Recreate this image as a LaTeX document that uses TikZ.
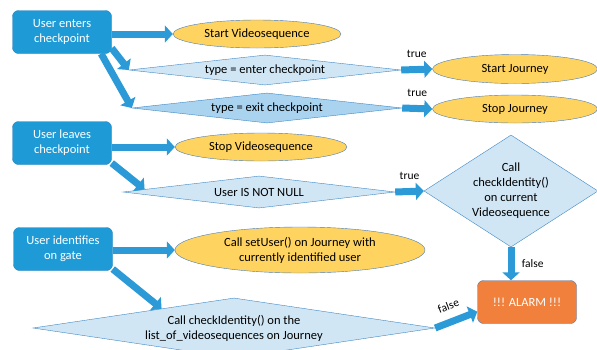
\documentclass[tikz,border=0pt]{standalone}
\usepackage{fontspec}
\setmainfont{Carlito}
\usetikzlibrary{arrows.meta,shapes.geometric,calc}
\definecolor{boxblue}{HTML}{1E9BD7}
\definecolor{boxedge}{HTML}{2A80B9}
\definecolor{arrowblue}{HTML}{2B9AD6}
\definecolor{gold}{HTML}{FFD35F}
\definecolor{edgeblue}{HTML}{4A7EBB}
\definecolor{diablue}{HTML}{3F88C5}
\definecolor{dialight}{HTML}{D0E6F5}
\definecolor{diadark}{HTML}{A9D3EF}
\definecolor{alarmorange}{HTML}{F0803C}

\begin{document}
\begin{tikzpicture}[x=1pt, y=-1pt, every node/.style={font=\fontsize{12.5}{15}\selectfont, align=center}, who/.style={draw=boxedge, fill=boxblue, text=white, rounded corners=6pt, minimum width=99pt, minimum height=43pt, inner sep=2pt}, act/.style={ellipse, draw=edgeblue, fill=gold, inner sep=0pt}, cond/.style={diamond, draw=diablue, fill=dialight, inner sep=0pt}, flow/.style={draw=arrowblue, line width=7pt, -{Triangle[length=8pt, width=17pt]}}, lbl/.style={font=\fontsize{11.5}{13}\selectfont, text=black}]
	\useasboundingbox (0,0) rectangle (597,349);
	% actors
	\node[who] (ue) at (62,32) {User enters\\checkpoint};
	\node[who] (ul) at (62,143) {User leaves\\checkpoint};
	\node[who] (ui) at (63,249) {User identifies\\on gate};
	% actions
	\node[act, minimum width=168pt, minimum height=28pt] (sv) at (257,34) {Start Videosequence};
	\node[act, minimum width=165pt, minimum height=29pt] (sj) at (515,69) {Start Journey};
	\node[act, minimum width=165pt, minimum height=28pt] (stj) at (515,109) {Stop Journey};
	\node[act, minimum width=172pt, minimum height=28pt] (stv) at (261,147) {Stop Videosequence};
	\node[act, minimum width=250pt, minimum height=46pt] (su) at (300,250) {Call setUser() on Journey with\\currently identified user};
	% conditions
	\node[cond, aspect=9, minimum width=272pt, minimum height=30pt] (d1) at (265,70) {type = enter checkpoint};
	\node[cond, aspect=9, fill=diadark, minimum width=270pt, minimum height=30pt] (d2) at (267,108) {type = exit checkpoint};
	\node[cond, aspect=8.5, minimum width=272pt, minimum height=32pt] (d3) at (259,192) {User IS NOT NULL};
	\node[cond, aspect=1.55, minimum width=174pt, minimum height=112pt] (d4) at (511,191) {Call\\checkIdentity()\\on current\\Videosequence};
	\node[cond, aspect=6.7, minimum width=402pt, minimum height=60pt] (d5) at (234,328) {Call checkIdentity() on the\\list\_of\_videosequences on Journey};
	\node[who, fill=alarmorange, draw=edgeblue] (alarm) at (527,302) {!!! ALARM !!!};
	% arrows
	\draw[flow] (ue.east |- sv.west) -- (sv.west);
	\draw[flow] (ue.-18) -- (d1.west);
	\draw[flow] (ue.-29) -- (d2.west);
	\draw[flow] (d1.east) -- (sj.west) node[midway, above=5pt, lbl] {true};
	\draw[flow] (d2.east) -- (stj.west) node[midway, above=5pt, lbl] {true};
	\draw[flow] (ul.east |- stv.west) -- (stv.west);
	\draw[flow] (ul.-22) -- ($(d3.west)!0.16!(d3.north)$);
	\draw[flow] (d3.east) -- (d4.west) node[midway, above=5pt, lbl] {true};
	\draw[flow] (d4.south) -- (d4.south |- alarm.north) node[midway, right=4pt, lbl] {false};
	\draw[flow] (ui.east |- su.west) -- (su.west);
	\draw[flow] (ui.-22) -- ($(d5.west)!0.64!(d5.north)$);
	\draw[flow] (d5.east) -- (alarm.191) node[pos=0.45, sloped, above=5pt, lbl] {false};
\end{tikzpicture}
\end{document}
